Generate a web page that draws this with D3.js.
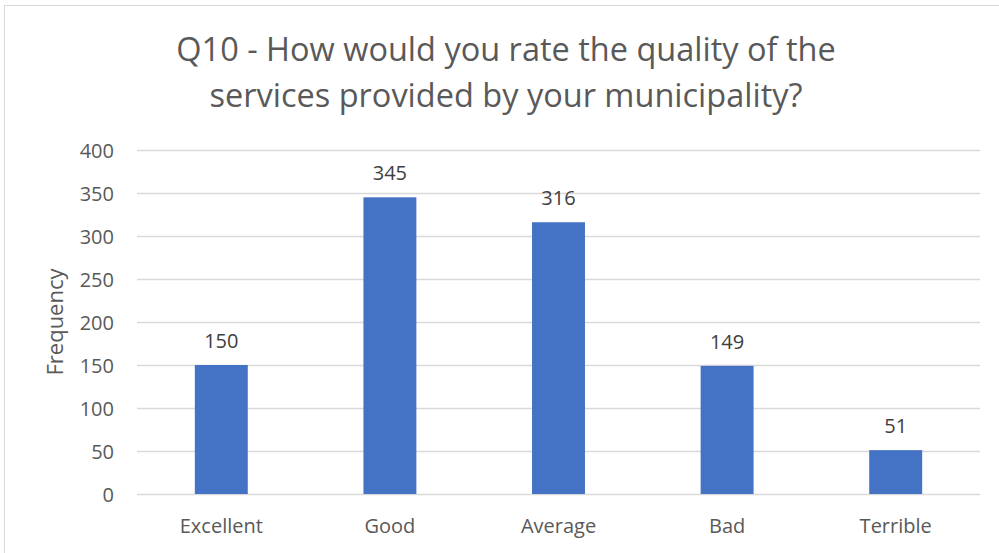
<!DOCTYPE html>
<html>
<head>
<meta charset="utf-8">
<script src="https://cdn.jsdelivr.net/npm/d3@7"></script>
<style>
  html, body { margin: 0; padding: 0; background: #fff; }
  svg { display: block; }
  svg text { font-family: "Open Sans", Lato, sans-serif; }
</style>
</head>
<body>
<svg id="chart" width="999" height="553"></svg>
<script>
// Survey responses for Q10
const categories = ["Excellent", "Good", "Average", "Bad", "Terrible"];
const frequencies = [150, 345, 316, 149, 51];
const yTicks = [0, 50, 100, 150, 200, 250, 300, 350, 400];
const titleLines = ["Q10 - How would you rate the quality of the", "services provided by your municipality?"];
const yLabel = "Frequency";

const svg = d3.select("#chart");
const textColor = "#595959";
const tickSize = "20px";

// Outer frame
svg.append("rect")
  .attr("x", 4.5).attr("y", 5.5)
  .attr("width", 1000).attr("height", 560)
  .attr("fill", "none").attr("stroke", "#d9d9d9").attr("stroke-width", 1);

const plot = { left: 137, right: 980, top: 150, bottom: 494 };

const x = d3.scaleBand()
  .domain(categories)
  .range([plot.left, plot.right])
  .paddingInner(0.686)
  .paddingOuter(0.343);

const y = d3.scaleLinear()
  .domain([0, 400])
  .range([plot.bottom, plot.top]);

// Gridlines
svg.append("g")
  .selectAll("line")
  .data(yTicks)
  .join("line")
  .attr("x1", plot.left).attr("x2", plot.right)
  .attr("y1", d => Math.round(y(d)) + 0.5).attr("y2", d => Math.round(y(d)) + 0.5)
  .attr("stroke", "#d9d9d9").attr("stroke-width", 1.3);

// Y axis tick labels
const yAxis = d3.axisLeft(y).tickValues(yTicks).tickSize(0).tickPadding(0);
const gy = svg.append("g")
  .attr("transform", `translate(${plot.left - 23},0)`)
  .call(yAxis)
  .attr("font-family", null);
gy.select(".domain").remove();
gy.selectAll("text")
  .attr("fill", textColor)
  .style("font-size", tickSize)
  .attr("dy", "0.36em");

// X axis category labels
const xAxis = d3.axisBottom(x).tickSize(0).tickPadding(0);
const gx = svg.append("g")
  .attr("transform", `translate(0,${plot.bottom})`)
  .call(xAxis)
  .attr("font-family", null);
gx.select(".domain").remove();
gx.selectAll("text")
  .attr("fill", textColor)
  .attr("y", 39)
  .attr("dy", null)
  .style("font-size", tickSize);

// Bars
svg.append("g")
  .selectAll("rect")
  .data(categories)
  .join("rect")
  .attr("x", d => x(d))
  .attr("width", x.bandwidth())
  .attr("y", (d, i) => y(frequencies[i]))
  .attr("height", (d, i) => y(0) - y(frequencies[i]))
  .attr("fill", "#4472c4");

// Value labels
svg.append("g")
  .selectAll("text")
  .data(categories)
  .join("text")
  .attr("x", d => x(d) + x.bandwidth() / 2)
  .attr("y", (d, i) => y(frequencies[i]) - 17)
  .attr("text-anchor", "middle")
  .attr("fill", "#404040")
  .style("font-size", tickSize)
  .text((d, i) => frequencies[i]);

// Y axis title
svg.append("text")
  .attr("transform", `translate(63,${(plot.top + plot.bottom) / 2}) rotate(-90)`)
  .attr("text-anchor", "middle")
  .attr("fill", textColor)
  .style("font-size", "22px")
  .text(yLabel);

// Chart title
svg.append("g")
  .selectAll("text")
  .data(titleLines)
  .join("text")
  .attr("x", 506)
  .attr("y", (d, i) => 61 + i * 46)
  .attr("text-anchor", "middle")
  .attr("fill", textColor)
  .style("font-size", "32.5px")
  .text(d => d);
</script>
</body>
</html>
